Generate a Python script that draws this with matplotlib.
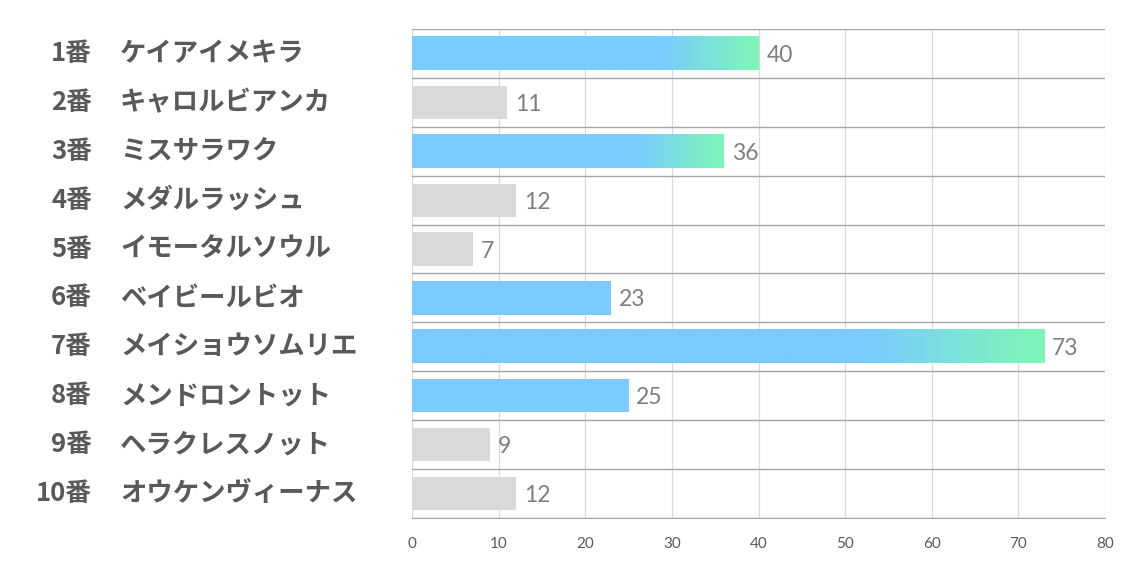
import numpy as np
import matplotlib
matplotlib.use("Agg")
import matplotlib.pyplot as plt
from matplotlib.colors import to_rgb
from matplotlib.transforms import blended_transform_factory

# data
numbers = ["1番", "2番", "3番", "4番", "5番", "6番", "7番", "8番", "9番", "10番"]
names = ["ケイアイメキラ", "キャロルビアンカ", "ミスサラワク", "メダルラッシュ", "イモータルソウル",
         "ベイビールビオ", "メイショウソムリエ", "メンドロントット", "ヘラクレスノット", "オウケンヴィーナス"]
values = [40, 11, 36, 12, 7, 23, 73, 25, 9, 12]
kind = ["grad", "gray", "grad", "gray", "gray", "blue", "grad", "blue", "gray", "gray"]

BLUE = "#7ACBFF"
GREEN = "#7DF8B6"
GRAY = "#D9D9D9"

fig = plt.figure(figsize=(11.34, 5.67), dpi=100)
ax = fig.add_axes([412 / 1134, 1 - 518 / 567, (1105 - 412) / 1134, (518 - 29) / 567])

y = np.arange(len(values))
h = 0.68

def grad_img():
    n = 256
    t = np.clip((np.linspace(0, 1, n) - 0.72) / 0.28, 0, 1)
    c0 = np.array(to_rgb(BLUE))
    c1 = np.array(to_rgb(GREEN))
    row = c0[None, :] * (1 - t[:, None]) + c1[None, :] * t[:, None]
    return row[None, :, :]

for yi, v, k in zip(y, values, kind):
    if k == "gray":
        ax.barh(yi, v, height=h, color=GRAY, zorder=2)
    elif k == "blue":
        ax.barh(yi, v, height=h, color=BLUE, zorder=2)
    else:
        ax.imshow(grad_img(), extent=(0, v, yi + h / 2, yi - h / 2),
                  aspect="auto", interpolation="bilinear", zorder=2)
    ax.text(v + 0.9, yi + 0.04, str(v), va="center", ha="left", fontsize=16.5,
            color="#7F7F7F", family="Lato", zorder=3)

ax.set_xlim(0, 80)
ax.set_ylim(len(values) - 0.5, -0.5)
ax.set_xticks(np.arange(0, 81, 10))
ax.set_yticks([])
ax.set_yticks(np.arange(-0.5, len(values), 1), minor=True)
ax.tick_params(axis="y", which="both", length=0)
ax.tick_params(axis="x", length=0, pad=14, labelsize=11, labelcolor="#595959")
for lab in ax.get_xticklabels():
    lab.set_family("Lato")
ax.grid(axis="x", color="#D9D9D9", lw=0.9, zorder=0)
ax.grid(axis="y", which="minor", color="#A6A6A6", lw=1.0, zorder=1)
for s in ["left", "right", "top"]:
    ax.spines[s].set_visible(False)
ax.spines["bottom"].set_color("#A6A6A6")

tr = blended_transform_factory(fig.transFigure, ax.transData)
for yi, num, nm in zip(y, numbers, names):
    ax.text(92 / 1134, yi, num, transform=tr, ha="right", va="center",
            fontsize=18.5, fontweight="bold", color="#595959",
            family=["Noto Sans CJK JP", "DejaVu Sans"])
    ax.text(120 / 1134, yi, nm, transform=tr, ha="left", va="center",
            fontsize=19, fontweight="bold", color="#595959",
            family=["Noto Sans CJK JP", "DejaVu Sans"])

fig.savefig("out.png", dpi=100)
